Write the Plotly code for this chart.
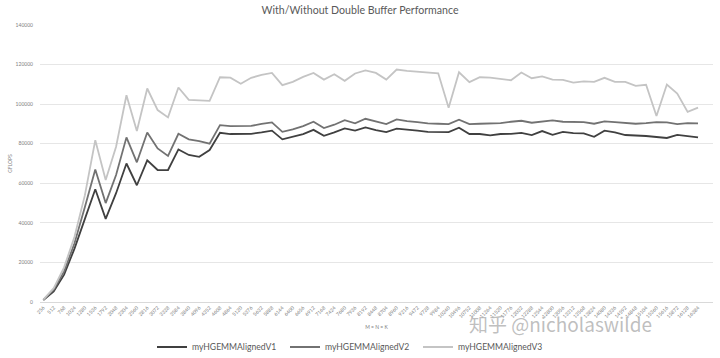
import plotly.graph_objects as go

categories = [str(256 * (i + 1)) for i in range(64)]

v1 = [1000, 5400, 13800, 27000, 42000, 57000, 42000, 55000, 70000, 59000,
      71600, 66700, 66700, 77100, 74300, 73400, 76800, 85500, 84900, 84900,
      85000, 85700, 86600, 82200, 83500, 84900, 87000, 84000, 85700, 87700,
      86600, 88200, 86900, 85900, 87600, 87200, 86600, 86000, 85900, 85900,
      88100, 84900, 84900, 84200, 84900, 85000, 85500, 84400, 86400, 84500,
      86000, 85400, 85200, 83500, 86600, 85700, 84400, 84200, 83900, 83400,
      82900, 84500, 84000, 83200]

v2 = [1100, 6200, 15500, 29700, 48000, 67000, 50000, 64200, 83200, 70600,
      85700, 77600, 73800, 85000, 82200, 81300, 80000, 89400, 88900, 88900,
      89000, 90000, 90800, 86000, 87200, 88900, 91100, 87900, 89600, 91900,
      90300, 92600, 91400, 89900, 92300, 91400, 90900, 90300, 90100, 89900,
      92100, 89900, 90100, 90300, 90400, 91100, 91600, 90600, 91300, 91800,
      91100, 91100, 90900, 90100, 91300, 90900, 90400, 90100, 90400, 90900,
      90800, 89900, 90400, 90300]

v3 = [1200, 7000, 17500, 33000, 54000, 81800, 61700, 78500, 104500, 86400,
      107900, 97000, 93300, 108400, 102200, 101800, 101700, 113600, 113400, 110300,
      113300, 114800, 115800, 109600, 111300, 113800, 115800, 112400, 115100, 111800,
      115500, 117100, 115800, 112400, 117500, 116800, 116400, 116000, 115600, 98200,
      116100, 111100, 113600, 113400, 112900, 112100, 116000, 113100, 114000, 112400,
      112300, 110900, 111500, 111300, 113300, 111300, 111300, 109200, 109800, 94000,
      109900, 105400, 96100, 98200]

series = [("myHGEMMAlignedV1", v1, "#404040"),
          ("myHGEMMAlignedV2", v2, "#727272"),
          ("myHGEMMAlignedV3", v3, "#c4c4c4")]

y_ticks = [0, 20000, 40000, 60000, 80000, 100000, 120000, 140000]

fig = go.Figure()
for name, vals, color in series:
    fig.add_trace(go.Scatter(x=categories, y=vals, mode="lines", name=name,
                             line=dict(color=color, width=1.8)))

W, H = 720, 358
ml, mr, mt, mb = 40, 7, 25, 56

fig.update_layout(
    width=W, height=H,
    margin=dict(l=ml, r=mr, t=mt, b=mb, autoexpand=False),
    paper_bgcolor="white", plot_bgcolor="white",
    font=dict(family="Lato, 'Open Sans', sans-serif", color="#595959"),
    title=dict(text="With/Without Double Buffer Performance",
               x=0.5, xref="container", y=1 - 10 / H, yref="container",
               xanchor="center", yanchor="middle",
               font=dict(size=10.6, color="#595959")),
    showlegend=True,
    legend=dict(orientation="h", xref="container", x=152 / W, xanchor="left",
                yref="container", y=1 - 347 / H, yanchor="middle",
                font=dict(size=8.6, color="#595959"),
                bgcolor="rgba(0,0,0,0)", itemwidth=30, tracegroupgap=0,
                entrywidth=88, entrywidthmode="pixels"),
    xaxis=dict(type="category", tickmode="array", tickvals=categories,
               ticktext=categories, tickangle=-45, automargin=False,
               tickfont=dict(size=5, color="#808080"),
               range=[-0.32, 64.44], showgrid=False,
               showline=True, linecolor="#d9d9d9", linewidth=1,
               ticks="", zeroline=False,
               title=dict(text="M = N = K", font=dict(size=5, color="#808080"),
                          standoff=7)),
    yaxis=dict(range=[0, 140000], tickmode="array", tickvals=y_ticks,
               ticktext=[str(t) for t in y_ticks], automargin=False,
               tickfont=dict(size=5, color="#808080"),
               showgrid=True, gridcolor="#e6e6e6", gridwidth=1,
               zeroline=False, showline=False, ticks="",
               ticklabelstandoff=6,
               title=dict(text="GFLOPS", font=dict(size=5, color="#808080"),
                          standoff=2)),
)

fig.add_annotation(text="知乎 @nicholaswilde", xref="paper", yref="paper",
                   x=(560 - ml) / (W - ml - mr), y=(H - mb - 323) / (H - mt - mb),
                   xanchor="center", yanchor="middle", showarrow=False,
                   font=dict(family="Noto Sans CJK SC, sans-serif", size=19,
                             color="rgba(170,170,170,0.75)"))

fig.write_html("out.html",
               config={"displayModeBar": False},
               post_script="document.body.style.margin='0';"
                           "document.body.style.padding='0';")
